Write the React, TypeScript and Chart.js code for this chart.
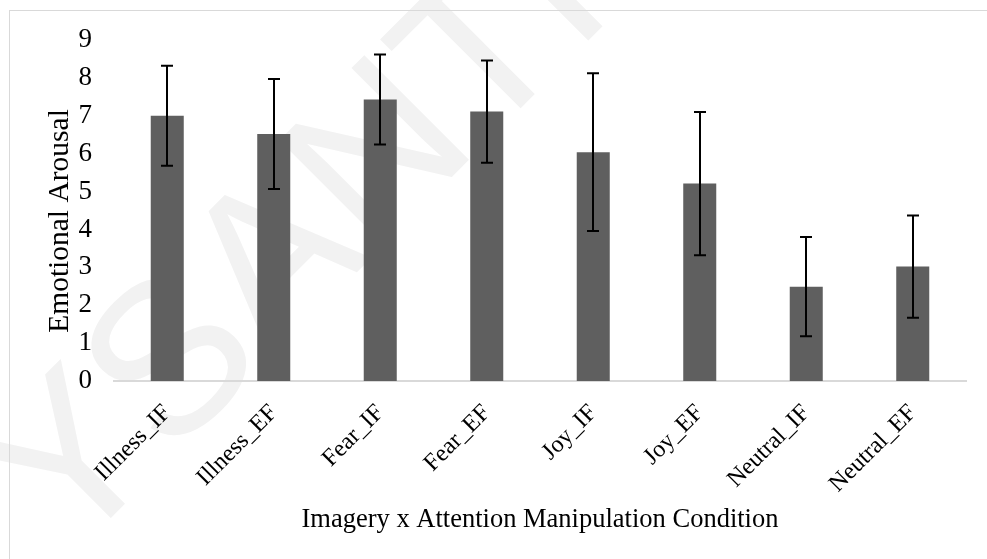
import React, { useEffect, useRef } from "react";
import { Chart, registerables } from "chart.js";

Chart.register(...registerables);

// Conditions (imagery type x attention focus)
const categories = [
  "Illness_IF",
  "Illness_EF",
  "Fear_IF",
  "Fear_EF",
  "Joy_IF",
  "Joy_EF",
  "Neutral_IF",
  "Neutral_EF",
];

// Mean emotional arousal per condition
const meanArousal = [7.0, 6.52, 7.43, 7.11, 6.04, 5.21, 2.49, 3.02];

// Symmetric error (± around the mean)
const arousalError = [1.32, 1.45, 1.19, 1.35, 2.08, 1.89, 1.31, 1.35];

const yTicks = [0, 1, 2, 3, 4, 5, 6, 7, 8, 9];

const yTitle = "Emotional Arousal";
const xTitle = "Imagery x Attention Manipulation Condition";
const backdropText = "YSANTI";

const SERIF = "'Liberation Serif', 'Times New Roman', serif";

// Outer frame and faint background lettering, painted before the axes
const framePlugin = {
  id: "frame",
  beforeDraw(chart: any) {
    const { ctx } = chart;
    ctx.save();
    ctx.translate(300, 245);
    ctx.rotate(-Math.PI / 4);
    ctx.fillStyle = "#f2f2f2";
    ctx.font = "215px 'Liberation Sans', Arial, sans-serif";
    ctx.textAlign = "center";
    ctx.textBaseline = "middle";
    ctx.fillText(backdropText, 0, 0);
    ctx.restore();

    ctx.save();
    ctx.strokeStyle = "#d9d9d9";
    ctx.lineWidth = 1;
    ctx.strokeRect(9.5, 10.5, 1200, 800);
    ctx.restore();
  },
};

// Vertical axis title, centred on the value axis
const yTitlePlugin = {
  id: "yTitle",
  afterDraw(chart: any) {
    const { ctx } = chart;
    ctx.save();
    ctx.translate(60, 221);
    ctx.rotate(-Math.PI / 2);
    ctx.fillStyle = "#000000";
    ctx.font = `29.5px ${SERIF}`;
    ctx.textAlign = "center";
    ctx.textBaseline = "middle";
    ctx.fillText(yTitle, 0, 0);
    ctx.restore();
  },
};

// Black error bars with caps drawn on each bar
const errorBarPlugin = {
  id: "errorBars",
  afterDatasetsDraw(chart: any) {
    const { ctx } = chart;
    const yScale = chart.scales.y;
    const meta = chart.getDatasetMeta(0);
    ctx.save();
    ctx.strokeStyle = "#000000";
    ctx.lineWidth = 2;
    meta.data.forEach((bar: any, i: number) => {
      const v = meanArousal[i];
      const e = arousalError[i];
      const yTop = yScale.getPixelForValue(v + e);
      const yBot = yScale.getPixelForValue(v - e);
      const x = Math.round(bar.x);
      ctx.beginPath();
      ctx.moveTo(x, yTop);
      ctx.lineTo(x, yBot);
      ctx.moveTo(x - 6, yTop);
      ctx.lineTo(x + 6, yTop);
      ctx.moveTo(x - 6, yBot);
      ctx.lineTo(x + 6, yBot);
      ctx.stroke();
    });
    ctx.restore();
  },
};

export default function App() {
  const canvasRef = useRef<HTMLCanvasElement | null>(null);

  useEffect(() => {
    if (!canvasRef.current) return;
    const chart = new Chart(canvasRef.current, {
      type: "bar",
      data: {
        labels: categories,
        datasets: [
          {
            data: meanArousal,
            backgroundColor: "#5f5f5f",
            borderWidth: 0,
            barPercentage: 0.31,
            categoryPercentage: 1,
          },
        ],
      },
      options: {
        animation: false,
        responsive: true,
        maintainAspectRatio: false,
        layout: { padding: { left: 0, right: 21, top: 40, bottom: 0 } },
        plugins: {
          legend: { display: false },
          tooltip: { enabled: false },
        },
        scales: {
          x: {
            grid: { display: false, drawTicks: false },
            border: { display: true, color: "#d9d9d9", width: 2 },
            ticks: {
              color: "#000000",
              font: { family: SERIF, size: 24 },
              minRotation: 45,
              maxRotation: 45,
              padding: 18,
              autoSkip: false,
            },
            title: {
              display: true,
              text: xTitle,
              color: "#000000",
              font: { family: SERIF, size: 26.5 },
              padding: { top: 0, bottom: 23 },
            },
            afterFit(scale: any) {
              scale.height = 178;
            },
          },
          y: {
            min: 0,
            max: 9,
            afterBuildTicks(scale: any) {
              scale.ticks = yTicks.map((v) => ({ value: v }));
            },
            grid: { display: false, drawTicks: false },
            border: { display: false },
            ticks: {
              color: "#000000",
              font: { family: SERIF, size: 27 },
              padding: 22,
            },
            afterFit(scale: any) {
              scale.width = 114;
            },
          },
        },
      },
      plugins: [framePlugin, errorBarPlugin, yTitlePlugin],
    });
    return () => chart.destroy();
  }, []);

  return (
    <div
      style={{
        position: "fixed",
        left: 0,
        top: 0,
        width: "987px",
        height: "559px",
        background: "#ffffff",
      }}
    >
      <canvas ref={canvasRef} />
    </div>
  );
}
